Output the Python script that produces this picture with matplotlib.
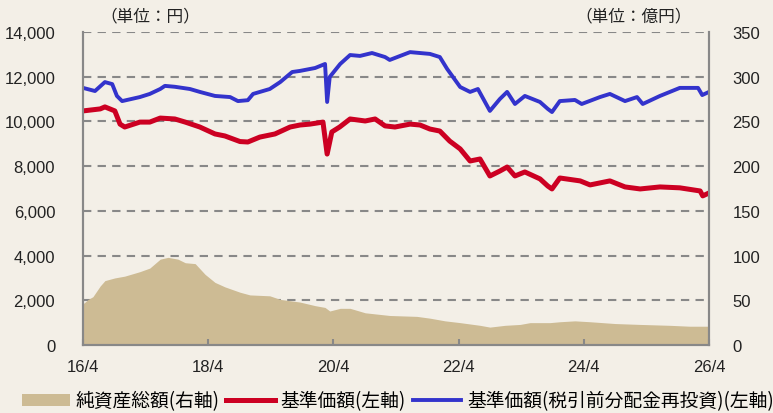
import matplotlib
matplotlib.use('Agg')
from matplotlib import pyplot as plt
from matplotlib.patches import Patch
from matplotlib.lines import Line2D

plt.rcParams['font.family'] = ['Liberation Sans', 'Noto Sans CJK JP']

# months since 2016/4
nav_m = [0, 3.3, 4.2, 6.1, 7.1, 8, 10.9, 12.8, 14.8, 17.6, 19.6, 22.4, 25.3, 27.2,
         30.1, 31.6, 33.9, 36.8, 39.7, 41.6, 43.5, 46, 46.8, 47.7, 49.2, 51.2, 54.1,
         56, 57.9, 59.8, 62.7, 64.6, 66.5, 68.4, 70.3, 72.3, 74.2, 76.1, 78, 79.9,
         81.3, 82.8, 84.7, 87.6, 89.1, 89.9, 91.4, 95.3, 97.2, 101, 103.9, 106.8,
         110.6, 114.4, 118.3, 118.8, 120]
nav = [10470, 10560, 10650, 10470, 9880, 9750, 9970, 9970, 10150, 10110, 9970, 9750,
       9440, 9350, 9100, 9080, 9300, 9440, 9750, 9840, 9880, 9970, 8540, 9530, 9750,
       10110, 10020, 10110, 9800, 9750, 9880, 9840, 9660, 9570, 9120, 8770, 8230,
       8320, 7560, 7780, 7960, 7560, 7740, 7430, 7110, 6980, 7470, 7340, 7160, 7340,
       7070, 6980, 7070, 7030, 6890, 6670, 6800]

reinv_m = [0, 2.3, 4.2, 5.6, 6.5, 7.5, 10.9, 12.8, 14.8, 15.7, 17.6, 20.5, 22.4, 25.3,
           28.2, 29.7, 31.6, 32.6, 35.8, 37.8, 40.1, 41.6, 44.5, 46.4, 46.8, 47.3,
           49.3, 51.2, 53.1, 55.4, 57.9, 58.8, 62.7, 66.5, 68.4, 69.8, 72.3, 74.2,
           75.7, 78, 79.9, 81.3, 82.8, 84.7, 87.6, 89.1, 89.9, 91.4, 94.3, 95.6, 99.1,
           101, 103.9, 106.2, 107.3, 110.6, 114.4, 117.9, 118.7, 120]
reinv = [11500, 11360, 11760, 11670, 11140, 10910, 11090, 11230, 11450, 11590, 11550,
         11450, 11320, 11140, 11090, 10910, 10950, 11230, 11450, 11760, 12210, 12260,
         12390, 12570, 10870, 11990, 12570, 12970, 12930, 13060, 12880, 12750, 13100,
         13020, 12880, 12350, 11540, 11320, 11450, 10470, 11000, 11320, 10780, 11140,
         10870, 10560, 10420, 10910, 10960, 10780, 11090, 11230, 10910, 11090, 10780,
         11140, 11500, 11500, 11180, 11320]

aum_m = [0, 1, 1.9, 3.3, 4.2, 6.1, 8, 10.9, 12.8, 14.8, 16.3, 18.2, 19.6, 21.5, 23.4,
         25.3, 27.2, 30.1, 32, 35.8, 37.8, 41.6, 44.5, 46.4, 47.3, 49.3, 51.2, 54.1,
         58.8, 64, 66.5, 69.4, 72.3, 76.1, 78, 80.9, 83.8, 85.7, 89.5, 91.4, 94.3,
         97.2, 102, 106.8, 112.5, 116.3, 120]
aum = [46, 51, 54, 66, 72, 75, 77, 82, 86, 96, 98, 96, 92, 91, 79, 70, 65, 59, 56, 55,
       51, 48, 44, 42, 38, 41, 41, 36, 33, 32, 30, 27, 25, 22, 20, 22, 23, 25, 25, 26,
       27, 26, 24, 23, 22, 21, 21]

xticks = [0, 24, 48, 72, 96, 120]
xlabels = ['16/4', '18/4', '20/4', '22/4', '24/4', '26/4']
lticks = list(range(0, 14001, 2000))
rticks = list(range(0, 351, 50))

bg = '#f3efe7'
tan = '#cdbb94'
red = '#cc0022'
blue = '#3333cc'
gray = '#888888'

fig = plt.figure(figsize=(7.73, 4.14), dpi=100, facecolor=bg)
ax = fig.add_axes([83/773, 1-346/414, 626/773, 313/414])
ax2 = ax.twinx()
ax.set_zorder(ax2.get_zorder() + 1)
ax.patch.set_visible(False)
ax2.set_facecolor(bg)

ax2.fill_between(aum_m, 0, aum, color=tan, lw=0, zorder=2)
ax2.set_ylim(0, 350)
ax2.set_yticks(rticks)
ax2.set_yticklabels([str(v) for v in rticks])
ax2.grid(axis='y', color=gray, ls=(0, (4, 3)), lw=1.5, zorder=0)
ax2.set_axisbelow(True)

ax.plot(nav_m, nav, color=red, lw=3.6, solid_joinstyle='round')
ax.plot(reinv_m, reinv, color=blue, lw=2.8, solid_joinstyle='round')
ax.set_xlim(0, 120)
ax.set_ylim(0, 14000)
ax.set_yticks(lticks)
ax.set_yticklabels([f'{v:,}' for v in lticks])
ax.set_xticks(xticks)
ax.set_xticklabels(xlabels)

for a in (ax, ax2):
    for s in a.spines.values():
        s.set_color(gray)
        s.set_linewidth(1.5)
    a.spines['top'].set_visible(False)
ax.tick_params(axis='y', length=0, pad=20, labelsize=12, colors='#222222')
ax2.tick_params(axis='y', length=0, pad=17, labelsize=12, colors='#222222')
ax.tick_params(axis='x', direction='in', length=4, width=1.5, color=gray,
               pad=10, labelsize=12, labelcolor='#222222')

fig.text(100/773, 1-17/414, '（単位：円）', fontsize=12, va='center', ha='left',
         family='Noto Sans CJK JP', color='#222222')
fig.text(692/773, 1-17/414, '（単位：億円）', fontsize=12, va='center', ha='right',
         family='Noto Sans CJK JP', color='#222222')

handles = [Patch(facecolor=tan, edgecolor='none'),
           Line2D([], [], color=red, lw=3.6),
           Line2D([], [], color=blue, lw=2.8)]
labels = ['純資産総額(右軸)', '基準価額(左軸)', '基準価額(税引前分配金再投資)(左軸)']
fig.legend(handles, labels, loc='center left', bbox_to_anchor=(14/773, 1-402/414),
           ncol=3, frameon=False, handlelength=2.6, handleheight=0.6,
           handletextpad=0.3, columnspacing=0.35, borderaxespad=0,
           prop={'family': 'Noto Sans CJK JP', 'size': 13.5})

fig.savefig('out.png', dpi=100, facecolor=bg)
